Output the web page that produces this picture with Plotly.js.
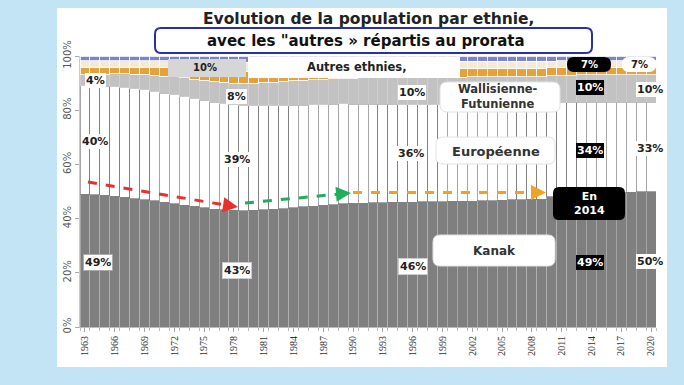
<!DOCTYPE html>
<html><head><meta charset="utf-8">
<script src="https://cdn.plot.ly/plotly-3.0.1.min.js"></script>
<style>html,body{margin:0;padding:0;background:#c2e4f5;}#chart{width:684px;height:385px;}</style>
</head><body><div id="chart"></div>
<script>
const years = [1963,1964,1965,1966,1967,1968,1969,1970,1971,1972,
  1973,1974,1975,1976,1977,1978,1979,1980,1981,1982,
  1983,1984,1985,1986,1987,1988,1989,1990,1991,1992,
  1993,1994,1995,1996,1997,1998,1999,2000,2001,2002,
  2003,2004,2005,2006,2007,2008,2009,2010,2011,2012,
  2013,2014,2015,2016,2017,2018,2019,2020];

const kanak = [49.0,48.8,48.6,48.3,47.9,47.4,47.0,46.5,46.0,45.5,
  45.0,44.5,44.0,43.5,43.2,43.0,42.9,43.0,43.2,43.4,
  43.7,44.0,44.3,44.6,44.9,45.2,45.5,45.6,45.7,45.8,
  45.9,46.0,46.0,46.0,46.1,46.1,46.2,46.2,46.3,46.3,
  46.4,46.4,46.5,46.5,46.6,46.6,46.7,48.0,48.6,48.8,
  48.9,49.0,49.2,49.4,49.6,49.8,49.9,50.0];

const europeenne = [40.0,40.1,40.2,40.3,40.4,40.5,40.5,40.4,40.3,40.2,
  40.0,39.8,39.6,39.4,39.2,39.0,38.8,38.6,38.4,38.2,
  38.0,37.8,37.6,37.4,37.2,37.0,36.8,36.6,36.5,36.4,
  36.3,36.2,36.1,36.0,35.9,35.8,35.7,35.6,35.5,35.4,
  35.3,35.2,35.1,35.0,34.9,34.8,34.7,34.5,34.3,34.2,
  34.1,34.0,33.8,33.6,33.4,33.2,33.1,33.0];

const wallisienne = [4.0,4.2,4.5,4.8,5.1,5.4,5.7,6.0,6.3,6.6,
  6.9,7.2,7.5,7.7,7.9,8.0,8.2,8.4,8.6,8.8,
  8.9,9.0,9.1,9.2,9.3,9.4,9.5,9.6,9.7,9.8,
  9.8,9.9,9.9,10.0,10.0,10.1,10.1,10.1,10.2,10.2,
  10.2,10.2,10.2,10.2,10.2,10.1,10.1,10.1,10.1,10.0,
  10.0,10.0,10.0,10.0,10.0,10.0,10.0,10.0];

// "Autres ethnies" shown as three thin stacked pieces
const autresOrange = [2.6,2.6,2.5,2.5,2.5,2.6,2.7,3.0,3.2,3.4,
  3.6,3.8,4.0,4.2,4.3,4.4,4.4,4.3,4.2,4.1,
  4.0,3.9,3.8,3.7,3.6,3.5,3.4,3.4,3.3,3.3,
  3.2,3.2,3.2,3.2,3.1,3.1,3.1,3.1,3.1,3.0,
  3.0,3.0,3.0,3.0,3.0,3.0,3.0,2.9,2.9,2.8,
  2.8,2.8,2.8,2.8,2.8,2.8,2.8,2.8];
const autresClair = [2.7,2.6,2.5,2.4,2.4,2.4,2.4,2.4,2.5,2.6,
  2.7,2.8,2.9,3.1,3.2,3.3,3.4,3.4,3.3,3.3,
  3.2,3.2,3.1,3.1,3.0,3.0,2.9,2.9,2.9,2.8,
  2.9,2.8,2.9,2.9,2.9,2.9,2.8,2.8,2.8,2.8,
  2.8,2.7,2.6,2.6,2.6,2.6,2.6,2.5,2.5,2.5,
  2.4,2.4,2.4,2.4,2.4,2.4,2.4,2.4];
const autresBleu = [1.7,1.7,1.7,1.7,1.7,1.7,1.7,1.7,1.7,1.7,
  1.8,1.9,2.0,2.1,2.2,2.3,2.3,2.3,2.3,2.2,
  2.2,2.1,2.1,2.0,2.0,1.9,1.9,1.9,1.9,1.9,
  1.9,1.9,1.9,1.9,1.9,1.9,1.9,1.9,1.9,1.9,
  1.9,1.9,1.9,1.9,1.9,1.9,1.9,1.9,1.8,1.8,
  1.8,1.8,1.8,1.8,1.8,1.8,1.8,1.8];

const xTickYears = [1963,1966,1969,1972,1975,1978,1981,1984,1987,1990,1993,1996,1999,2002,2005,2008,2011,2014,2017,2020];
const yTickVals = [0,20,40,60,80,100];
const yTickText = ['0%','20%','40%','60%','80%','100%'];

// ---- geometry helpers (pixel -> paper) ----
const W = 684, H = 385, ML = 80, MR = 28, MT = 56, MB = 58;
const PW = W - ML - MR, PH = H - MT - MB;
const X = p => (p - ML) / PW;
const Y = p => (H - MB - p) / PH;
function rr(x0, y0, x1, y1, r) {
  return `M${X(x0+r)},${Y(y0)} L${X(x1-r)},${Y(y0)} Q${X(x1)},${Y(y0)} ${X(x1)},${Y(y0+r)} ` +
    `L${X(x1)},${Y(y1-r)} Q${X(x1)},${Y(y1)} ${X(x1-r)},${Y(y1)} L${X(x0+r)},${Y(y1)} ` +
    `Q${X(x0)},${Y(y1)} ${X(x0)},${Y(y1-r)} L${X(x0)},${Y(y0+r)} Q${X(x0)},${Y(y0)} ${X(x0+r)},${Y(y0)} Z`;
}
const idx = y => years.indexOf(y);
const pct = v => Math.round(v) + '%';
const autresTot = y => autresOrange[idx(y)] + autresClair[idx(y)] + autresBleu[idx(y)];

function bar(name, vals, color, lineColor, lw) {
  return {type:'bar', name, x: years, y: vals, marker:{color, line:{color: lineColor, width: lw}}, hoverinfo:'skip'};
}
const traces = [
  bar('Kanak', kanak, '#7f7f7f', '#b3b3b3', 0.7),
  bar('Européenne', europeenne, '#ffffff', '#6a6a6a', 0.6),
  bar('Wallisienne-Futunienne', wallisienne, '#c2c2c2', '#d2d2d2', 0.6),
  bar('Autres (a)', autresOrange, '#e3a23b', '#ffffff', 0.8),
  bar('Autres (b)', autresClair, '#f3ead8', '#ffffff', 0.8),
  bar('Autres (c)', autresBleu, '#7d82c9', '#ffffff', 0.8)
];

const F = 'DejaVu Sans';
const shapes = [
  {type:'rect', xref:'paper', yref:'paper', x0:X(57), x1:X(667), y0:Y(367), y1:Y(8), fillcolor:'#ffffff', line:{width:0}, layer:'below'},
  // title box
  {type:'path', xref:'paper', yref:'paper', path: rr(155,28,592,53,6), fillcolor:'#ffffff', line:{color:'#2b2fa8', width:2}},
  // autres boxes
  {type:'rect', xref:'paper', yref:'paper', x0:X(168), x1:X(246), y0:Y(77), y1:Y(59), fillcolor:'#d6d6d6', line:{width:0}},
  {type:'rect', xref:'paper', yref:'paper', x0:X(248), x1:X(460), y0:Y(78), y1:Y(57), fillcolor:'#ffffff', line:{width:0}},
  // category boxes
  {type:'path', xref:'paper', yref:'paper', path: rr(440,82,560,112,7), fillcolor:'#ffffff', line:{color:'#e2e2e2', width:1}},
  {type:'path', xref:'paper', yref:'paper', path: rr(436,137,555,164,7), fillcolor:'#ffffff', line:{color:'#e2e2e2', width:1}},
  {type:'path', xref:'paper', yref:'paper', path: rr(433,235,555,266,7), fillcolor:'#ffffff', line:{color:'#e2e2e2', width:1}},
  {type:'path', xref:'paper', yref:'paper', path: rr(553,187,625,220,6), fillcolor:'#000000', line:{width:0}},
  // pills for 7%
  {type:'path', xref:'paper', yref:'paper', path: rr(567,57,611,72,7), fillcolor:'#000000', line:{width:0}},
  {type:'path', xref:'paper', yref:'paper', path: rr(622,57,656,72,7), fillcolor:'#ffffff', line:{width:0}},
  // dashed trend lines
  {type:'line', xref:'paper', yref:'paper', x0:X(88), y0:Y(182), x1:X(228), y1:Y(205.5), line:{color:'#e8312a', width:3, dash:'dash'}},
  {type:'line', xref:'paper', yref:'paper', x0:X(245), y0:Y(203), x1:X(340), y1:Y(194), line:{color:'#1fae5c', width:3, dash:'dash'}},
  {type:'line', xref:'paper', yref:'paper', x0:X(353), y0:Y(192.5), x1:X(535), y1:Y(192.5), line:{color:'#f0a323', width:3, dash:'dash'}}
];

function lab(text, px, py, opts) {
  opts = opts || {};
  return {xref:'paper', yref:'paper', x:X(px), y:Y(py), xanchor:'center', yanchor:'middle',
    text:'<b>'+text+'</b>', showarrow:false,
    font:{family:F, size: opts.size || 11, color: opts.color || '#222'},
    bgcolor: opts.bg === undefined ? '#ffffff' : opts.bg, borderpad: 1,
    bordercolor: opts.border || 'rgba(0,0,0,0)', borderwidth: opts.border ? 1 : 0};
}
function head(px, py, ax, ay, color) {
  return {xref:'paper', yref:'paper', x:X(px), y:Y(py), ax, ay, text:'', showarrow:true,
    arrowhead:2, arrowsize:1, arrowwidth:3, arrowcolor:color};
}
const annotations = [
  {xref:'paper', yref:'paper', x:X(368), y:Y(19), xanchor:'center', yanchor:'middle', text:'<b>Evolution de la population par ethnie,</b>', showarrow:false, font:{family:F, size:15.5, color:'#222'}},
  {xref:'paper', yref:'paper', x:X(366), y:Y(41), xanchor:'center', yanchor:'middle', text:'<b>avec les "autres » répartis au prorata</b>', showarrow:false, font:{family:F, size:15, color:'#111'}},
  // 1963
  lab(pct(wallisienne[idx(1963)]), 95, 80),
  lab(pct(europeenne[idx(1963)]), 95, 141),
  lab(pct(kanak[idx(1963)]), 98, 262, {border:'#aaaaaa'}),
  // 1978
  lab(pct(autresTot(1978)), 205, 67, {bg:'rgba(0,0,0,0)', size:10}),
  lab(pct(wallisienne[idx(1978)]), 236, 96),
  lab(pct(europeenne[idx(1978)]), 237, 159),
  lab(pct(kanak[idx(1978)]), 237, 270, {border:'#cccccc'}),
  // 1996
  lab(pct(wallisienne[idx(1996)]), 412, 92),
  lab(pct(europeenne[idx(1996)]), 411, 153),
  lab(pct(kanak[idx(1996)]), 413, 266, {border:'#cccccc'}),
  // 2014
  lab(pct(autresTot(2014)), 589, 64, {bg:'rgba(0,0,0,0)', color:'#ffffff', size:10}),
  lab(pct(wallisienne[idx(2014)]), 590, 87, {bg:'#000000', color:'#ffffff'}),
  lab(pct(europeenne[idx(2014)]), 590, 150, {bg:'#000000', color:'#ffffff'}),
  lab(pct(kanak[idx(2014)]), 590, 262, {bg:'#000000', color:'#ffffff'}),
  // 2020
  lab(pct(autresTot(2020)), 639, 64, {bg:'rgba(0,0,0,0)', size:10}),
  lab(pct(wallisienne[idx(2020)]), 650, 89),
  lab(pct(europeenne[idx(2020)]), 650, 148),
  lab(pct(kanak[idx(2020)]), 650, 261),
  // category names
  lab('Autres ethnies,', 357, 67, {bg:'rgba(0,0,0,0)', size:11.5}),
  {xref:'paper', yref:'paper', x:X(498), y:Y(97), xanchor:'center', yanchor:'middle', text:'<b>Wallisienne-<br>Futunienne</b>', showarrow:false, font:{family:F, size:11.5, color:'#333'}},
  lab('Européenne', 496, 151, {bg:'rgba(0,0,0,0)', size:13, color:'#333'}),
  lab('Kanak', 494, 251, {bg:'rgba(0,0,0,0)', size:12, color:'#333'}),
  {xref:'paper', yref:'paper', x:X(589), y:Y(204), xanchor:'center', yanchor:'middle', text:'<b>En<br>2014</b>', showarrow:false, font:{family:F, size:11, color:'#ffffff'}},
  // arrow heads
  head(238, 207, -13, -2, '#e8312a'),
  head(351, 193, -13, 1, '#1fae5c'),
  head(546, 192.5, -13, 0, '#f0a323')
];

const layout = {
  width: W, height: H,
  margin: {l: ML, r: MR, t: MT, b: MB, pad: 0},
  paper_bgcolor: '#c2e4f5',
  plot_bgcolor: '#ffffff',
  barmode: 'stack', barnorm: 'percent', bargap: 0,
  showlegend: false,
  xaxis: {
    range: [1962.5, 2020.5], tickmode: 'array', tickvals: xTickYears, ticktext: xTickYears.map(String),
    tickangle: -90, tickfont: {family: 'Liberation Serif', size: 10, color: '#333'},
    ticks: 'outside', ticklen: 4, tickcolor: '#aaaaaa', showgrid: false, zeroline: false,
    showline: true, linecolor: '#bbbbbb', linewidth: 1,
    minor: {tick0: 1962.5, dtick: 1, ticks: 'outside', ticklen: 3, tickcolor: '#bbbbbb'}
  },
  yaxis: {
    range: [0, 100], tickmode: 'array', tickvals: yTickVals, ticktext: yTickText,
    tickangle: -90, tickfont: {family: F, size: 10, color: '#555'},
    ticks: 'outside', ticklen: 4, tickcolor: '#aaaaaa', showgrid: false, zeroline: false,
    showline: true, linecolor: '#cccccc'
  },
  shapes, annotations
};
Plotly.newPlot('chart', traces, layout, {staticPlot: true, displayModeBar: false});
</script></body></html>
